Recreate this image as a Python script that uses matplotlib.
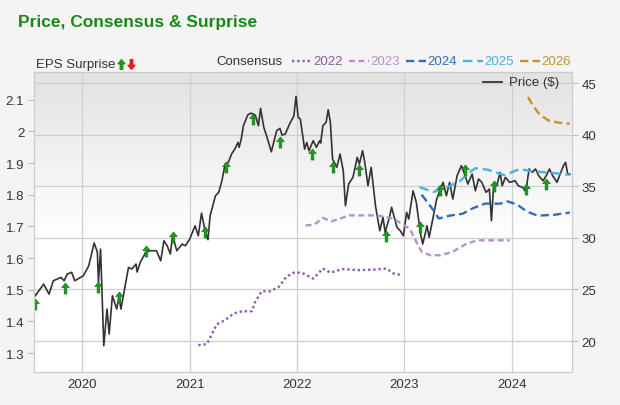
import numpy as np
import matplotlib
matplotlib.use("Agg")
import matplotlib.pyplot as plt
from matplotlib.path import Path
from matplotlib.lines import Line2D

plt.rcParams['font.family'] = ['Liberation Sans', 'DejaVu Sans']

# Preço (anos decimais, $)
price_dates = [2019.55, 2019.56, 2019.64, 2019.69, 2019.73, 2019.80, 2019.83, 2019.86, 2019.90, 2019.93,
               2020.01, 2020.06, 2020.11, 2020.14, 2020.15, 2020.17, 2020.20, 2020.23, 2020.25, 2020.28,
               2020.32, 2020.34, 2020.36, 2020.43, 2020.46, 2020.50, 2020.51, 2020.54, 2020.59, 2020.63,
               2020.69, 2020.73, 2020.76, 2020.79, 2020.82, 2020.84, 2020.88, 2020.93, 2020.96, 2021.00,
               2021.05, 2021.08, 2021.11, 2021.14, 2021.17, 2021.19, 2021.24, 2021.27, 2021.30, 2021.33,
               2021.36, 2021.39, 2021.42, 2021.45, 2021.46, 2021.48, 2021.50, 2021.54, 2021.57, 2021.61,
               2021.64, 2021.66, 2021.69, 2021.72, 2021.76, 2021.81, 2021.84, 2021.86, 2021.89, 2021.93,
               2021.97, 2021.99, 2022.01, 2022.03, 2022.07, 2022.09, 2022.11, 2022.15, 2022.18, 2022.21,
               2022.22, 2022.24, 2022.27, 2022.29, 2022.31, 2022.33, 2022.37, 2022.40, 2022.43, 2022.45,
               2022.48, 2022.52, 2022.56, 2022.58, 2022.61, 2022.63, 2022.66, 2022.69, 2022.73, 2022.77,
               2022.80, 2022.82, 2022.86, 2022.88, 2022.93, 2022.96, 2022.99, 2023.02, 2023.04, 2023.08,
               2023.11, 2023.15, 2023.17, 2023.21, 2023.23, 2023.27, 2023.30, 2023.33, 2023.36, 2023.39,
               2023.42, 2023.45, 2023.49, 2023.53, 2023.56, 2023.59, 2023.63, 2023.66, 2023.69, 2023.72,
               2023.76, 2023.79, 2023.80, 2023.81, 2023.83, 2023.86, 2023.89, 2023.91, 2023.94, 2023.98,
               2024.03, 2024.06, 2024.10, 2024.13, 2024.16, 2024.19, 2024.22, 2024.25, 2024.29, 2024.32,
               2024.35, 2024.38, 2024.42, 2024.45, 2024.48, 2024.50, 2024.52, 2024.54]
price = [24.84, 24.36, 25.52, 24.55, 25.84, 26.17, 25.84, 26.49, 26.66, 25.84,
         26.33, 27.30, 29.50, 28.62, 25.72, 28.91, 19.54, 23.10, 20.68, 24.39,
         23.10, 24.26, 23.10, 27.14, 26.98, 27.46, 26.69, 27.63, 28.60, 28.75,
         28.75, 27.78, 29.72, 29.23, 28.43, 30.20, 28.75, 29.40, 29.23, 29.88,
         31.17, 30.20, 32.40, 30.85, 29.82, 32.14, 34.08, 34.41, 35.53, 37.15,
         37.32, 38.12, 38.60, 39.25, 38.77, 39.57, 40.86, 41.90, 42.09, 41.90,
         40.86, 42.55, 40.71, 39.74, 38.34, 40.38, 40.61, 39.96, 40.06, 41.03,
         41.83, 43.71, 41.68, 41.51, 38.60, 39.25, 38.44, 39.41, 38.77, 39.41,
         39.19, 40.86, 41.19, 42.41, 41.19, 37.64, 36.83, 38.12, 36.50, 33.11,
         35.21, 35.86, 37.80, 37.15, 38.44, 37.32, 35.05, 36.83, 33.11, 30.69,
         31.99, 30.53, 31.99, 32.96, 31.02, 30.69, 30.20, 32.47, 31.82, 34.56,
         33.44, 30.37, 29.40, 31.17, 30.05, 32.14, 33.76, 34.56, 35.38, 34.08,
         35.38, 33.76, 36.02, 36.99, 36.18, 35.21, 36.18, 34.56, 35.70, 35.38,
         34.41, 34.73, 33.28, 31.66, 35.05, 35.05, 36.35, 35.05, 35.86, 35.38,
         35.53, 35.05, 34.89, 34.47, 36.67, 36.35, 36.67, 36.02, 35.53, 36.02,
         36.67, 36.02, 35.38, 36.18, 36.99, 37.32, 36.18, 36.18]

# Surpresas de EPS (todas positivas)
surprise_dates = [2019.56, 2019.84, 2020.15, 2020.34, 2020.59, 2020.84, 2021.14, 2021.34, 2021.59, 2021.84,
                  2022.14, 2022.33, 2022.58, 2022.83, 2023.14, 2023.33, 2023.56, 2023.83, 2024.13, 2024.32]
surprise_eps = [1.456, 1.504, 1.509, 1.478, 1.623, 1.667, 1.683, 1.888, 2.038, 1.968,
                1.930, 1.888, 1.879, 1.670, 1.698, 1.814, 1.877, 1.829, 1.819, 1.835]

# Consenso por ano fiscal
c2022_dates = [2021.08, 2021.16, 2021.21, 2021.25, 2021.33, 2021.41, 2021.49, 2021.58, 2021.61, 2021.67,
               2021.75, 2021.83, 2021.90, 2021.98, 2022.06, 2022.15, 2022.24, 2022.31, 2022.42, 2022.59,
               2022.74, 2022.83, 2022.90, 2022.98]
c2022 = [1.325, 1.328, 1.362, 1.390, 1.404, 1.425, 1.432, 1.432, 1.462, 1.495,
         1.495, 1.509, 1.541, 1.556, 1.551, 1.535, 1.567, 1.554, 1.565, 1.562,
         1.564, 1.567, 1.551, 1.546]
c2023_dates = [2022.08, 2022.16, 2022.24, 2022.32, 2022.49, 2022.74, 2022.90, 2022.98, 2023.05, 2023.11,
               2023.16, 2023.24, 2023.33, 2023.45, 2023.58, 2023.68, 2023.98]
c2023 = [1.703, 1.706, 1.727, 1.716, 1.735, 1.735, 1.725, 1.706, 1.693, 1.651,
         1.620, 1.609, 1.609, 1.620, 1.646, 1.656, 1.656]
c2024_dates = [2023.16, 2023.21, 2023.27, 2023.32, 2023.42, 2023.54, 2023.64, 2023.75, 2023.89, 2023.96,
               2024.05, 2024.14, 2024.24, 2024.40, 2024.54]
c2024 = [1.800, 1.778, 1.751, 1.725, 1.734, 1.740, 1.758, 1.772, 1.772, 1.779,
         1.769, 1.747, 1.734, 1.737, 1.744]
c2025_dates = [2023.14, 2023.27, 2023.40, 2023.52, 2023.59, 2023.66, 2023.78, 2023.93, 2024.07, 2024.20,
               2024.35, 2024.54]
c2025 = [1.824, 1.809, 1.825, 1.844, 1.867, 1.884, 1.879, 1.862, 1.881, 1.874, 1.870, 1.863]
c2026_dates = [2024.15, 2024.20, 2024.26, 2024.34, 2024.45, 2024.54]
c2026 = [2.109, 2.080, 2.053, 2.035, 2.027, 2.025]

years = [2020, 2021, 2022, 2023, 2024]
eps_ticks = [1.3, 1.4, 1.5, 1.6, 1.7, 1.8, 1.9, 2.0, 2.1]
eps_labels = ['1.3', '1.4', '1.5', '1.6', '1.7', '1.8', '1.9', '2', '2.1']
price_ticks = [20, 25, 30, 35, 40, 45]

consensus = [
    ('2022', c2022_dates, c2022, '#8c5ca6', (0, (1, 1.2))),
    ('2023', c2023_dates, c2023, '#b492cc', (0, (2.5, 1.5))),
    ('2024', c2024_dates, c2024, '#2e6fb5', (0, (3.5, 1.8))),
    ('2025', c2025_dates, c2025, '#4db0e0', (0, (4, 2))),
    ('2026', c2026_dates, c2026, '#c8902e', (0, (3.5, 1.8))),
]

up = Path([(0, 1), (0.7, 0.15), (0.25, 0.15), (0.25, -1), (-0.25, -1), (-0.25, 0.15), (-0.7, 0.15), (0, 1)])
down = Path([(x, -y) for x, y in up.vertices])
green = '#1e9a1e'

fig = plt.figure(figsize=(6.2, 4.06), dpi=100, facecolor='#f4f4f4')
rect = [34 / 620, 33 / 406, 538 / 620, 300 / 406]

# fundo com degradê
bg = fig.add_axes(rect, zorder=-1)
grad = np.linspace(0, 1, 256).reshape(-1, 1)
grad = np.clip(grad * 1.8, 0, 1)
bg.imshow(grad, aspect='auto', cmap=matplotlib.colors.LinearSegmentedColormap.from_list('g', ['#e2e2e2', '#ffffff']),
          extent=[0, 1, 0, 1], origin='upper')
bg.axis('off')

ax2 = fig.add_axes(rect)
ax2.patch.set_visible(False)
ax = ax2.twinx()
ax.yaxis.tick_left()
ax2.yaxis.tick_right()
ax.set_zorder(ax2.get_zorder() + 1)
ax.patch.set_visible(False)

ax2.plot(price_dates, price, color='#333333', lw=1.2, zorder=3)
ax2.set_ylim(17.0, 46.07)
ax2.set_yticks(price_ticks)
ax2.set_xlim(2019.55, 2024.56)
ax2.set_xticks(years)
ax2.grid(True, color='#cfcfcf', lw=0.9)
ax2.set_axisbelow(True)

for name, d, v, c, ls in consensus:
    ax.plot(d, v, color=c, ls=ls, lw=1.7)
ax.plot(surprise_dates, surprise_eps, ls='none', marker=up, ms=8, color=green, mec='#157015', mew=0.4)
ax.set_ylim(1.24, 2.188)
ax.set_yticks(eps_ticks)
ax.set_yticklabels(eps_labels)

for a in (ax, ax2):
    for s in a.spines.values():
        s.set_color('#cccccc')
    a.tick_params(colors='#bbbbbb', labelcolor='#333333', labelsize=9.5, length=4, pad=3)
ax2.tick_params(axis='x', length=0, pad=4)

fig.text(18 / 620, 1 - 22 / 406, 'Price, Consensus & Surprise', color='#188a18',
         fontsize=12.5, fontweight='bold', va='center')
fig.text(36 / 620, 1 - 65 / 406, 'EPS Surprise', fontsize=9.5, color='#333333', va='center')
fig.add_artist(Line2D([121 / 620], [1 - 65 / 406], marker=up, ms=7, color=green, transform=fig.transFigure))
fig.add_artist(Line2D([131 / 620], [1 - 65 / 406], marker=down, ms=7, color='#e02020', transform=fig.transFigure))

fig.text(216 / 620, 1 - 62 / 406, 'Consensus', fontsize=9.5, color='#333333', va='center')
xs = 292
for name, d, v, c, ls in consensus:
    fig.add_artist(Line2D([xs / 620, (xs + 20) / 620], [1 - 62 / 406] * 2, color=c, ls=ls, lw=1.7,
                          transform=fig.transFigure))
    fig.text((xs + 21) / 620, 1 - 62 / 406, name, fontsize=9.5, color=c, va='center')
    xs += 57

fig.add_artist(Line2D([483 / 620, 502 / 620], [1 - 83 / 406] * 2, color='#333333', lw=1.3,
                      transform=fig.transFigure))
fig.text(509 / 620, 1 - 83 / 406, 'Price ($)', fontsize=9.5, color='#333333', va='center')

plt.savefig('out.png', dpi=100, facecolor=fig.get_facecolor())
